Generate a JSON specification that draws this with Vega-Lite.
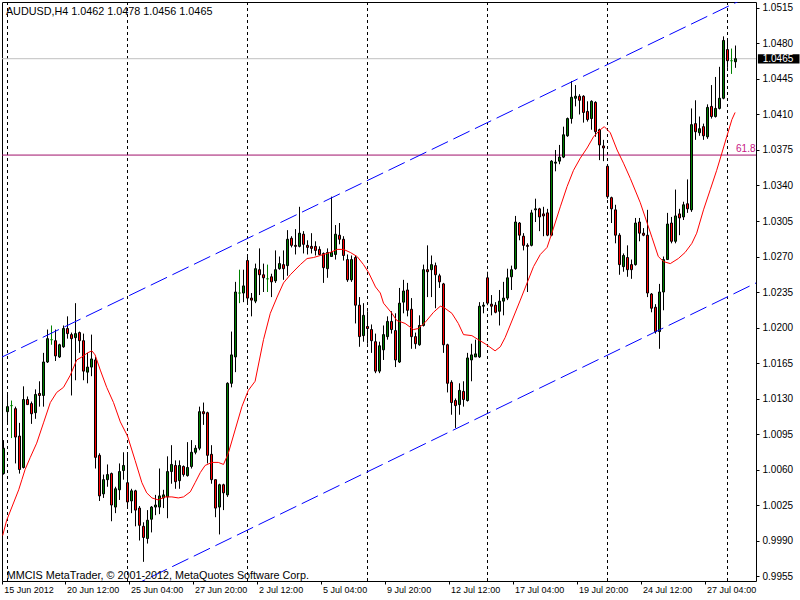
{
"$schema": "https://vega.github.io/schema/vega-lite/v6.json",
"width": 754, "height": 579,
"autosize": {"type": "none"},
"padding": {"left": 2, "top": 2, "right": 44, "bottom": 19},
"background": "white",
"config": {"view": {"stroke": "black", "strokeWidth": 1}, "font": "Liberation Sans", "axis": {"grid": false}},
"datasets": {
"candles": [
{"i":0,"o":1.0056,"h":1.0089,"l":1.0055,"c":1.0081},
{"i":1,"o":1.0117,"h":1.0136,"l":1.0104,"c":1.0122},
{"i":2,"o":1.0123,"h":1.0128,"l":1.0091,"c":1.0123},
{"i":3,"o":1.0120,"h":1.0122,"l":1.0066,"c":1.0092},
{"i":4,"o":1.0093,"h":1.0106,"l":1.0056,"c":1.0060},
{"i":5,"o":1.0062,"h":1.0142,"l":1.0061,"c":1.0129},
{"i":6,"o":1.0129,"h":1.0132,"l":1.0124,"c":1.0124},
{"i":7,"o":1.0125,"h":1.0127,"l":1.0105,"c":1.0115},
{"i":8,"o":1.0116,"h":1.0139,"l":1.0110,"c":1.0134},
{"i":9,"o":1.0135,"h":1.0147,"l":1.0122,"c":1.0133},
{"i":10,"o":1.0133,"h":1.0175,"l":1.0122,"c":1.0166},
{"i":11,"o":1.0166,"h":1.0198,"l":1.0165,"c":1.0189},
{"i":12,"o":1.0188,"h":1.0202,"l":1.0183,"c":1.0188},
{"i":13,"o":1.0187,"h":1.0198,"l":1.0167,"c":1.0172},
{"i":14,"o":1.0171,"h":1.0184,"l":1.0170,"c":1.0183},
{"i":15,"o":1.0181,"h":1.0202,"l":1.0180,"c":1.0199},
{"i":16,"o":1.0199,"h":1.0211,"l":1.0189,"c":1.0194},
{"i":17,"o":1.0193,"h":1.0195,"l":1.0133,"c":1.0189},
{"i":18,"o":1.0190,"h":1.0224,"l":1.0148,"c":1.0194},
{"i":19,"o":1.0195,"h":1.0196,"l":1.0175,"c":1.0187},
{"i":20,"o":1.0187,"h":1.0194,"l":1.0148,"c":1.0157},
{"i":21,"o":1.0156,"h":1.0175,"l":1.0145,"c":1.0161},
{"i":22,"o":1.0161,"h":1.0193,"l":1.0152,"c":1.0169},
{"i":23,"o":1.0168,"h":1.0171,"l":1.0061,"c":1.0072},
{"i":24,"o":1.0074,"h":1.0076,"l":1.0029,"c":1.0034},
{"i":25,"o":1.0036,"h":1.0055,"l":1.0032,"c":1.0050},
{"i":26,"o":1.0050,"h":1.0065,"l":1.0043,"c":1.0055},
{"i":27,"o":1.0056,"h":1.0057,"l":1.0009,"c":1.0025},
{"i":28,"o":1.0023,"h":1.0043,"l":1.0017,"c":1.0041},
{"i":29,"o":1.0040,"h":1.0066,"l":1.0030,"c":1.0058},
{"i":30,"o":1.0059,"h":1.0077,"l":1.0050,"c":1.0064},
{"i":31,"o":1.0047,"h":1.0077,"l":1.0022,"c":1.0028},
{"i":32,"o":1.0029,"h":1.0041,"l":1.0017,"c":1.0039},
{"i":33,"o":1.0039,"h":1.0040,"l":1.0004,"c":1.0020},
{"i":34,"o":1.0022,"h":1.0024,"l":0.9990,"c":1.0005},
{"i":35,"o":1.0004,"h":1.0008,"l":0.9969,"c":0.9993},
{"i":36,"o":0.9992,"h":1.0020,"l":0.9987,"c":1.0010},
{"i":37,"o":1.0011,"h":1.0024,"l":0.9998,"c":1.0023},
{"i":38,"o":1.0023,"h":1.0035,"l":1.0015,"c":1.0025},
{"i":39,"o":1.0023,"h":1.0061,"l":1.0016,"c":1.0034},
{"i":40,"o":1.0032,"h":1.0040,"l":1.0022,"c":1.0035},
{"i":41,"o":1.0033,"h":1.0073,"l":1.0012,"c":1.0058},
{"i":42,"o":1.0058,"h":1.0084,"l":1.0046,"c":1.0065},
{"i":43,"o":1.0064,"h":1.0069,"l":1.0041,"c":1.0048},
{"i":44,"o":1.0049,"h":1.0069,"l":1.0041,"c":1.0064},
{"i":45,"o":1.0063,"h":1.0064,"l":1.0053,"c":1.0055},
{"i":46,"o":1.0054,"h":1.0087,"l":1.0053,"c":1.0062},
{"i":47,"o":1.0063,"h":1.0089,"l":1.0061,"c":1.0077},
{"i":48,"o":1.0077,"h":1.0084,"l":1.0075,"c":1.0081},
{"i":49,"o":1.0081,"h":1.0122,"l":1.0079,"c":1.0117},
{"i":50,"o":1.0117,"h":1.0126,"l":1.0104,"c":1.0115},
{"i":51,"o":1.0116,"h":1.0117,"l":1.0066,"c":1.0074},
{"i":52,"o":1.0075,"h":1.0084,"l":1.0046,"c":1.0050},
{"i":53,"o":1.0050,"h":1.0050,"l":1.0013,"c":1.0022},
{"i":54,"o":1.0023,"h":1.0046,"l":0.9996,"c":1.0045},
{"i":55,"o":1.0045,"h":1.0046,"l":1.0020,"c":1.0037},
{"i":56,"o":1.0035,"h":1.0146,"l":1.0033,"c":1.0145},
{"i":57,"o":1.0145,"h":1.0196,"l":1.0141,"c":1.0173},
{"i":58,"o":1.0171,"h":1.0245,"l":1.0156,"c":1.0235},
{"i":59,"o":1.0234,"h":1.0257,"l":1.0224,"c":1.0234},
{"i":60,"o":1.0234,"h":1.0257,"l":1.0225,"c":1.0241},
{"i":61,"o":1.0266,"h":1.0272,"l":1.0225,"c":1.0229},
{"i":62,"o":1.0229,"h":1.0234,"l":1.0211,"c":1.0227},
{"i":63,"o":1.0226,"h":1.0263,"l":1.0224,"c":1.0258},
{"i":64,"o":1.0257,"h":1.0278,"l":1.0232,"c":1.0252},
{"i":65,"o":1.0252,"h":1.0263,"l":1.0235,"c":1.0249},
{"i":66,"o":1.0248,"h":1.0262,"l":1.0235,"c":1.0248},
{"i":67,"o":1.0250,"h":1.0253,"l":1.0230,"c":1.0245},
{"i":68,"o":1.0246,"h":1.0276,"l":1.0244,"c":1.0257},
{"i":69,"o":1.0258,"h":1.0270,"l":1.0257,"c":1.0263},
{"i":70,"o":1.0262,"h":1.0276,"l":1.0247,"c":1.0258},
{"i":71,"o":1.0261,"h":1.0296,"l":1.0251,"c":1.0287},
{"i":72,"o":1.0288,"h":1.0290,"l":1.0279,"c":1.0281},
{"i":73,"o":1.0281,"h":1.0297,"l":1.0272,"c":1.0280},
{"i":74,"o":1.0280,"h":1.0319,"l":1.0279,"c":1.0293},
{"i":75,"o":1.0292,"h":1.0295,"l":1.0273,"c":1.0282},
{"i":76,"o":1.0281,"h":1.0286,"l":1.0272,"c":1.0279},
{"i":77,"o":1.0280,"h":1.0293,"l":1.0273,"c":1.0278},
{"i":78,"o":1.0280,"h":1.0285,"l":1.0271,"c":1.0276},
{"i":79,"o":1.0277,"h":1.0280,"l":1.0272,"c":1.0272},
{"i":80,"o":1.0273,"h":1.0274,"l":1.0244,"c":1.0259},
{"i":81,"o":1.0258,"h":1.0278,"l":1.0249,"c":1.0274},
{"i":82,"o":1.0270,"h":1.0329,"l":1.0270,"c":1.0274},
{"i":83,"o":1.0272,"h":1.0301,"l":1.0267,"c":1.0292},
{"i":84,"o":1.0291,"h":1.0303,"l":1.0282,"c":1.0287},
{"i":85,"o":1.0287,"h":1.0290,"l":1.0266,"c":1.0271},
{"i":86,"o":1.0267,"h":1.0272,"l":1.0245,"c":1.0247},
{"i":87,"o":1.0247,"h":1.0271,"l":1.0245,"c":1.0267},
{"i":88,"o":1.0269,"h":1.0271,"l":1.0204,"c":1.0222},
{"i":89,"o":1.0222,"h":1.0230,"l":1.0181,"c":1.0191},
{"i":90,"o":1.0192,"h":1.0224,"l":1.0186,"c":1.0212},
{"i":91,"o":1.0201,"h":1.0216,"l":1.0184,"c":1.0199},
{"i":92,"o":1.0198,"h":1.0203,"l":1.0175,"c":1.0187},
{"i":93,"o":1.0186,"h":1.0194,"l":1.0155,"c":1.0157},
{"i":94,"o":1.0157,"h":1.0186,"l":1.0155,"c":1.0182},
{"i":95,"o":1.0178,"h":1.0202,"l":1.0168,"c":1.0193},
{"i":96,"o":1.0191,"h":1.0211,"l":1.0188,"c":1.0206},
{"i":97,"o":1.0206,"h":1.0216,"l":1.0194,"c":1.0198},
{"i":98,"o":1.0197,"h":1.0214,"l":1.0161,"c":1.0168},
{"i":99,"o":1.0166,"h":1.0239,"l":1.0165,"c":1.0224},
{"i":100,"o":1.0225,"h":1.0247,"l":1.0214,"c":1.0236},
{"i":101,"o":1.0237,"h":1.0244,"l":1.0211,"c":1.0217},
{"i":102,"o":1.0218,"h":1.0229,"l":1.0179,"c":1.0191},
{"i":103,"o":1.0191,"h":1.0195,"l":1.0179,"c":1.0184},
{"i":104,"o":1.0183,"h":1.0212,"l":1.0182,"c":1.0202},
{"i":105,"o":1.0202,"h":1.0262,"l":1.0201,"c":1.0257},
{"i":106,"o":1.0257,"h":1.0281,"l":1.0230,"c":1.0255},
{"i":107,"o":1.0257,"h":1.0271,"l":1.0230,"c":1.0262},
{"i":108,"o":1.0261,"h":1.0264,"l":1.0219,"c":1.0252},
{"i":109,"o":1.0251,"h":1.0253,"l":1.0239,"c":1.0245},
{"i":110,"o":1.0243,"h":1.0244,"l":1.0175,"c":1.0183},
{"i":111,"o":1.0183,"h":1.0184,"l":1.0136,"c":1.0145},
{"i":112,"o":1.0146,"h":1.0148,"l":1.0114,"c":1.0126},
{"i":113,"o":1.0128,"h":1.0130,"l":1.0101,"c":1.0123},
{"i":114,"o":1.0124,"h":1.0145,"l":1.0114,"c":1.0138},
{"i":115,"o":1.0137,"h":1.0147,"l":1.0122,"c":1.0129},
{"i":116,"o":1.0128,"h":1.0175,"l":1.0127,"c":1.0170},
{"i":117,"o":1.0168,"h":1.0184,"l":1.0147,"c":1.0173},
{"i":118,"o":1.0171,"h":1.0188,"l":1.0171,"c":1.0174},
{"i":119,"o":1.0171,"h":1.0225,"l":1.0170,"c":1.0221},
{"i":120,"o":1.0221,"h":1.0225,"l":1.0214,"c":1.0222},
{"i":121,"o":1.0249,"h":1.0255,"l":1.0222,"c":1.0224},
{"i":122,"o":1.0223,"h":1.0232,"l":1.0212,"c":1.0221},
{"i":123,"o":1.0222,"h":1.0225,"l":1.0214,"c":1.0215},
{"i":124,"o":1.0216,"h":1.0237,"l":1.0202,"c":1.0226},
{"i":125,"o":1.0226,"h":1.0245,"l":1.0212,"c":1.0229},
{"i":126,"o":1.0229,"h":1.0258,"l":1.0227,"c":1.0249},
{"i":127,"o":1.0250,"h":1.0261,"l":1.0237,"c":1.0257},
{"i":128,"o":1.0258,"h":1.0310,"l":1.0257,"c":1.0304},
{"i":129,"o":1.0303,"h":1.0304,"l":1.0286,"c":1.0291},
{"i":130,"o":1.0290,"h":1.0293,"l":1.0276,"c":1.0281},
{"i":131,"o":1.0281,"h":1.0283,"l":1.0235,"c":1.0280},
{"i":132,"o":1.0281,"h":1.0316,"l":1.0280,"c":1.0313},
{"i":133,"o":1.0316,"h":1.0327,"l":1.0304,"c":1.0317},
{"i":134,"o":1.0317,"h":1.0318,"l":1.0295,"c":1.0309},
{"i":135,"o":1.0312,"h":1.0319,"l":1.0290,"c":1.0310},
{"i":136,"o":1.0313,"h":1.0317,"l":1.0290,"c":1.0291},
{"i":137,"o":1.0291,"h":1.0365,"l":1.0290,"c":1.0364},
{"i":138,"o":1.0362,"h":1.0375,"l":1.0354,"c":1.0363},
{"i":139,"o":1.0364,"h":1.0380,"l":1.0361,"c":1.0368},
{"i":140,"o":1.0368,"h":1.0398,"l":1.0367,"c":1.0390},
{"i":141,"o":1.0389,"h":1.0407,"l":1.0388,"c":1.0406},
{"i":142,"o":1.0406,"h":1.0443,"l":1.0401,"c":1.0427},
{"i":143,"o":1.0426,"h":1.0439,"l":1.0418,"c":1.0428},
{"i":144,"o":1.0428,"h":1.0430,"l":1.0410,"c":1.0424},
{"i":145,"o":1.0428,"h":1.0429,"l":1.0402,"c":1.0412},
{"i":146,"o":1.0413,"h":1.0423,"l":1.0403,"c":1.0405},
{"i":147,"o":1.0406,"h":1.0424,"l":1.0395,"c":1.0423},
{"i":148,"o":1.0422,"h":1.0423,"l":1.0388,"c":1.0393},
{"i":149,"o":1.0395,"h":1.0396,"l":1.0365,"c":1.0380},
{"i":150,"o":1.0379,"h":1.0385,"l":1.0364,"c":1.0377},
{"i":151,"o":1.0359,"h":1.0360,"l":1.0327,"c":1.0329},
{"i":152,"o":1.0328,"h":1.0329,"l":1.0303,"c":1.0317},
{"i":153,"o":1.0316,"h":1.0321,"l":1.0283,"c":1.0291},
{"i":154,"o":1.0291,"h":1.0293,"l":1.0252,"c":1.0262},
{"i":155,"o":1.0260,"h":1.0273,"l":1.0255,"c":1.0271},
{"i":156,"o":1.0269,"h":1.0281,"l":1.0250,"c":1.0257},
{"i":157,"o":1.0262,"h":1.0267,"l":1.0248,"c":1.0257},
{"i":158,"o":1.0262,"h":1.0308,"l":1.0261,"c":1.0303},
{"i":159,"o":1.0304,"h":1.0308,"l":1.0285,"c":1.0293},
{"i":160,"o":1.0293,"h":1.0298,"l":1.0290,"c":1.0291},
{"i":161,"o":1.0291,"h":1.0316,"l":1.0230,"c":1.0234},
{"i":162,"o":1.0233,"h":1.0234,"l":1.0215,"c":1.0219},
{"i":163,"o":1.0220,"h":1.0223,"l":1.0194,"c":1.0196},
{"i":164,"o":1.0196,"h":1.0243,"l":1.0179,"c":1.0235},
{"i":165,"o":1.0235,"h":1.0270,"l":1.0217,"c":1.0267},
{"i":166,"o":1.0267,"h":1.0313,"l":1.0267,"c":1.0302},
{"i":167,"o":1.0303,"h":1.0309,"l":1.0283,"c":1.0285},
{"i":168,"o":1.0285,"h":1.0336,"l":1.0283,"c":1.0310},
{"i":169,"o":1.0312,"h":1.0317,"l":1.0291,"c":1.0308},
{"i":170,"o":1.0309,"h":1.0324,"l":1.0306,"c":1.0321},
{"i":171,"o":1.0322,"h":1.0346,"l":1.0313,"c":1.0317},
{"i":172,"o":1.0316,"h":1.0416,"l":1.0314,"c":1.0400},
{"i":173,"o":1.0401,"h":1.0424,"l":1.0385,"c":1.0393},
{"i":174,"o":1.0392,"h":1.0408,"l":1.0389,"c":1.0396},
{"i":175,"o":1.0398,"h":1.0401,"l":1.0385,"c":1.0389},
{"i":176,"o":1.0388,"h":1.0420,"l":1.0386,"c":1.0417},
{"i":177,"o":1.0418,"h":1.0439,"l":1.0406,"c":1.0408},
{"i":178,"o":1.0408,"h":1.0447,"l":1.0407,"c":1.0416},
{"i":179,"o":1.0416,"h":1.0457,"l":1.0415,"c":1.0426},
{"i":180,"o":1.0426,"h":1.0487,"l":1.0425,"c":1.0483},
{"i":181,"o":1.0474,"h":1.0485,"l":1.0456,"c":1.0463},
{"i":182,"o":1.0463,"h":1.0475,"l":1.0450,"c":1.0463},
{"i":183,"o":1.0462,"h":1.0478,"l":1.0456,"c":1.0465}
],
"ma": [
{"i":-0.2,"p":0.9995},{"i":0.8,"p":1.0010},{"i":2.5,"p":1.0027},{"i":3.8,"p":1.0040},{"i":4.6,"p":1.0050},{"i":5.4,"p":1.0060},{"i":6.7,"p":1.0072},{"i":8.3,"p":1.0086},{"i":10,"p":1.0106},{"i":11.7,"p":1.0126},{"i":13.3,"p":1.0136},{"i":15,"p":1.0141},{"i":16.7,"p":1.0153},{"i":18.3,"p":1.0168},{"i":19.6,"p":1.0171},{"i":21,"p":1.0175},{"i":22.1,"p":1.0177},{"i":22.9,"p":1.0173},{"i":24.2,"p":1.0158},{"i":25.8,"p":1.0141},{"i":27.5,"p":1.0126},{"i":29.2,"p":1.0107},{"i":31,"p":1.0093},{"i":32.9,"p":1.0069},{"i":34.6,"p":1.0047},{"i":35.8,"p":1.0037},{"i":37.1,"p":1.0032},{"i":38.7,"p":1.0030},{"i":40.4,"p":1.0033},{"i":42.1,"p":1.0033},{"i":43.7,"p":1.0032},{"i":45,"p":1.0033},{"i":46.7,"p":1.0038},{"i":47.9,"p":1.0047},{"i":49.2,"p":1.0057},{"i":50.4,"p":1.0064},{"i":52.1,"p":1.0067},{"i":53.7,"p":1.0067},{"i":55,"p":1.0065},{"i":56.2,"p":1.0076},{"i":57.9,"p":1.0099},{"i":59.6,"p":1.0122},{"i":61.2,"p":1.0138},{"i":62.9,"p":1.0147},{"i":65,"p":1.0188},{"i":66.7,"p":1.0214},{"i":68.4,"p":1.0230},{"i":70,"p":1.0244},{"i":71.7,"p":1.0252},{"i":74.2,"p":1.0262},{"i":75.9,"p":1.0268},{"i":77.5,"p":1.0269},{"i":79.2,"p":1.0271},{"i":81.7,"p":1.0274},{"i":83.4,"p":1.0277},{"i":85,"p":1.0277},{"i":86.7,"p":1.0274},{"i":88.4,"p":1.0270},{"i":90,"p":1.0262},{"i":91.3,"p":1.0254},{"i":93,"p":1.0240},{"i":94.2,"p":1.0234},{"i":95,"p":1.0224},{"i":97.1,"p":1.0214},{"i":98.3,"p":1.0207},{"i":100.4,"p":1.0204},{"i":102.5,"p":1.0198},{"i":103.7,"p":1.0199},{"i":105.4,"p":1.0205},{"i":107.5,"p":1.0215},{"i":109.2,"p":1.0221},{"i":110,"p":1.0220},{"i":112.1,"p":1.0214},{"i":113.7,"p":1.0204},{"i":115,"p":1.0193},{"i":117.1,"p":1.0192},{"i":118.7,"p":1.0188},{"i":120.4,"p":1.0184},{"i":122.9,"p":1.0177},{"i":124.2,"p":1.0181},{"i":125.4,"p":1.0190},{"i":129.2,"p":1.0227},{"i":130.9,"p":1.0244},{"i":132.5,"p":1.0260},{"i":134.2,"p":1.0272},{"i":135.9,"p":1.0279},{"i":137.5,"p":1.0298},{"i":139.2,"p":1.0319},{"i":140.9,"p":1.0339},{"i":142.5,"p":1.0355},{"i":144.2,"p":1.0367},{"i":145.9,"p":1.0377},{"i":147.5,"p":1.0388},{"i":149.2,"p":1.0395},{"i":150.2,"p":1.0398},{"i":151.7,"p":1.0392},{"i":153.4,"p":1.0375},{"i":155,"p":1.0362},{"i":156.7,"p":1.0347},{"i":159.2,"p":1.0323},{"i":160.4,"p":1.0309},{"i":162.1,"p":1.0289},{"i":163.7,"p":1.0270},{"i":165,"p":1.0265},{"i":166.7,"p":1.0263},{"i":168.7,"p":1.0268},{"i":170.4,"p":1.0274},{"i":172.1,"p":1.0283},{"i":173.3,"p":1.0293},{"i":175,"p":1.0316},{"i":176.7,"p":1.0336},{"i":178.3,"p":1.0355},{"i":179.6,"p":1.0372},{"i":180.8,"p":1.0388},{"i":182.1,"p":1.0405},{"i":182.9,"p":1.0412}
],
"channels": [
{"line":"upper","i":-1,"p":1.01697},{"line":"upper","i":190,"p":1.05335},
{"line":"lower","i":-1,"p":0.98815},{"line":"lower","i":190,"p":1.02475}
],
"seps": [{"i":1},{"i":31},{"i":61},{"i":91},{"i":121},{"i":151},{"i":181}],
"levels": [{"name":"bid","p":1.0465},{"name":"fib","p":1.0370}],
"notes": [
{"kind":"fib","t":"61.8","i":188.0,"p":1.0370},
{"kind":"title","t":"AUDUSD,H4  1.0462 1.0478 1.0456 1.0465","i":0.6,"p":1.05112},
{"kind":"credit","t":"MMCIS MetaTrader, © 2001-2012, MetaQuotes Software Corp.","i":0.8,"p":0.99555},
{"kind":"bid","t":"1.0465","i":189.8,"p":1.04648}
],
"box": [{"i0":188.6,"i1":199.0,"p0":1.04693,"p1":1.04603}]
},
"layer": [
{
"data": {"name": "seps"},
"mark": {"type": "rule", "color": "black", "strokeWidth": 1, "strokeDash": [3, 3]},
"encoding": {
"x": {"field": "i", "type": "quantitative", "scale": {"domain": [-0.375, 188.125], "nice": false, "zero": false, "padding": 0},
"axis": {"orient": "bottom", "values": [-0.3, 15.4, 31.4, 47.4, 63.4, 79.4, 95.4, 111.4, 127.4, 143.4, 159.4, 175.4], "labelExpr": "['15 Jun 2012','20 Jun 12:00','25 Jun 04:00','27 Jun 20:00','2 Jul 12:00','5 Jul 04:00','9 Jul 20:00','12 Jul 12:00','17 Jul 04:00','19 Jul 20:00','24 Jul 12:00','27 Jul 04:00'][round((datum.value+0.6)/16)]", "title": null, "domain": false, "grid": false, "tickSize": 3, "tickColor": "black", "labelColor": "black", "labelFont": "Liberation Sans", "labelFontSize": 9, "labelAlign": "left", "labelBaseline": "top", "labelPadding": 1, "labelOffset": 1.5, "labelOverlap": false, "labelFlush": false, "labelBound": false}}
}
},
{
"data": {"name": "levels"},
"mark": {"type": "rule", "strokeWidth": 1},
"encoding": {
"y": {"field": "p", "type": "quantitative", "scale": {"domain": [0.99501, 1.05209], "nice": false, "zero": false, "padding": 0},
"axis": {"orient": "right", "values": [0.9955, 0.999, 1.0025, 1.006, 1.0095, 1.013, 1.0165, 1.02, 1.0235, 1.027, 1.0305, 1.034, 1.0375, 1.041, 1.0445, 1.048, 1.0515], "format": ".4f", "title": null, "domain": false, "grid": false, "tickSize": 3, "tickColor": "black", "labelColor": "black", "labelFont": "Liberation Sans", "labelFontSize": 10, "labelAlign": "left", "labelBaseline": "middle", "labelPadding": 3, "labelOverlap": false, "labelFlush": false, "labelBound": false}},
"color": {"field": "name", "type": "nominal", "scale": {"domain": ["bid", "fib"], "range": ["#c0c0c0", "#a0106a"]}, "legend": null}
}
},
{
"data": {"name": "candles"},
"encoding": {
"x": {"field": "i", "type": "quantitative", "scale": {"domain": [-0.375, 188.125], "nice": false, "zero": false, "padding": 0},
"axis": {"orient": "bottom", "values": [-0.3, 15.4, 31.4, 47.4, 63.4, 79.4, 95.4, 111.4, 127.4, 143.4, 159.4, 175.4], "labelExpr": "['15 Jun 2012','20 Jun 12:00','25 Jun 04:00','27 Jun 20:00','2 Jul 12:00','5 Jul 04:00','9 Jul 20:00','12 Jul 12:00','17 Jul 04:00','19 Jul 20:00','24 Jul 12:00','27 Jul 04:00'][round((datum.value+0.6)/16)]", "title": null, "domain": false, "grid": false, "tickSize": 3, "tickColor": "black", "labelColor": "black", "labelFont": "Liberation Sans", "labelFontSize": 9, "labelAlign": "left", "labelBaseline": "top", "labelPadding": 1, "labelOffset": 1.5, "labelOverlap": false, "labelFlush": false, "labelBound": false}}
},
"layer": [
{
"mark": {"type": "rule", "strokeWidth": 1},
"encoding": {
"y": {"field": "l", "type": "quantitative", "scale": {"domain": [0.99501, 1.05209], "nice": false, "zero": false, "padding": 0},
"axis": {"orient": "right", "values": [0.9955, 0.999, 1.0025, 1.006, 1.0095, 1.013, 1.0165, 1.02, 1.0235, 1.027, 1.0305, 1.034, 1.0375, 1.041, 1.0445, 1.048, 1.0515], "format": ".4f", "title": null, "domain": false, "grid": false, "tickSize": 3, "tickColor": "black", "labelColor": "black", "labelFont": "Liberation Sans", "labelFontSize": 10, "labelAlign": "left", "labelBaseline": "middle", "labelPadding": 3, "labelOverlap": false, "labelFlush": false, "labelBound": false}},
"y2": {"field": "h"},
"color": {"condition": {"test": "datum.o == datum.c", "value": "#008000"}, "value": "black"}
}
},
{
"mark": {"type": "bar", "width": 2, "strokeWidth": 1},
"encoding": {
"y": {"field": "o", "type": "quantitative", "scale": {"domain": [0.99501, 1.05209], "nice": false, "zero": false, "padding": 0},
"axis": {"orient": "right", "values": [0.9955, 0.999, 1.0025, 1.006, 1.0095, 1.013, 1.0165, 1.02, 1.0235, 1.027, 1.0305, 1.034, 1.0375, 1.041, 1.0445, 1.048, 1.0515], "format": ".4f", "title": null, "domain": false, "grid": false, "tickSize": 3, "tickColor": "black", "labelColor": "black", "labelFont": "Liberation Sans", "labelFontSize": 10, "labelAlign": "left", "labelBaseline": "middle", "labelPadding": 3, "labelOverlap": false, "labelFlush": false, "labelBound": false}},
"y2": {"field": "c"},
"fill": {"condition": {"test": "datum.c >= datum.o", "value": "#008000"}, "value": "#ff0000"},
"stroke": {"condition": {"test": "datum.o == datum.c", "value": "#008000"}, "value": "black"}
}
}
]
},
{
"data": {"name": "ma"},
"mark": {"type": "line", "color": "#ff0000", "strokeWidth": 1, "clip": true},
"encoding": {
"x": {"field": "i", "type": "quantitative", "scale": {"domain": [-0.375, 188.125], "nice": false, "zero": false, "padding": 0},
"axis": {"orient": "bottom", "values": [-0.3, 15.4, 31.4, 47.4, 63.4, 79.4, 95.4, 111.4, 127.4, 143.4, 159.4, 175.4], "labelExpr": "['15 Jun 2012','20 Jun 12:00','25 Jun 04:00','27 Jun 20:00','2 Jul 12:00','5 Jul 04:00','9 Jul 20:00','12 Jul 12:00','17 Jul 04:00','19 Jul 20:00','24 Jul 12:00','27 Jul 04:00'][round((datum.value+0.6)/16)]", "title": null, "domain": false, "grid": false, "tickSize": 3, "tickColor": "black", "labelColor": "black", "labelFont": "Liberation Sans", "labelFontSize": 9, "labelAlign": "left", "labelBaseline": "top", "labelPadding": 1, "labelOffset": 1.5, "labelOverlap": false, "labelFlush": false, "labelBound": false}},
"y": {"field": "p", "type": "quantitative", "scale": {"domain": [0.99501, 1.05209], "nice": false, "zero": false, "padding": 0},
"axis": {"orient": "right", "values": [0.9955, 0.999, 1.0025, 1.006, 1.0095, 1.013, 1.0165, 1.02, 1.0235, 1.027, 1.0305, 1.034, 1.0375, 1.041, 1.0445, 1.048, 1.0515], "format": ".4f", "title": null, "domain": false, "grid": false, "tickSize": 3, "tickColor": "black", "labelColor": "black", "labelFont": "Liberation Sans", "labelFontSize": 10, "labelAlign": "left", "labelBaseline": "middle", "labelPadding": 3, "labelOverlap": false, "labelFlush": false, "labelBound": false}}
}
},
{
"data": {"name": "channels"},
"mark": {"type": "line", "color": "#0000ff", "strokeWidth": 1, "strokeDash": [18, 6], "clip": true},
"encoding": {
"x": {"field": "i", "type": "quantitative", "scale": {"domain": [-0.375, 188.125], "nice": false, "zero": false, "padding": 0},
"axis": {"orient": "bottom", "values": [-0.3, 15.4, 31.4, 47.4, 63.4, 79.4, 95.4, 111.4, 127.4, 143.4, 159.4, 175.4], "labelExpr": "['15 Jun 2012','20 Jun 12:00','25 Jun 04:00','27 Jun 20:00','2 Jul 12:00','5 Jul 04:00','9 Jul 20:00','12 Jul 12:00','17 Jul 04:00','19 Jul 20:00','24 Jul 12:00','27 Jul 04:00'][round((datum.value+0.6)/16)]", "title": null, "domain": false, "grid": false, "tickSize": 3, "tickColor": "black", "labelColor": "black", "labelFont": "Liberation Sans", "labelFontSize": 9, "labelAlign": "left", "labelBaseline": "top", "labelPadding": 1, "labelOffset": 1.5, "labelOverlap": false, "labelFlush": false, "labelBound": false}},
"y": {"field": "p", "type": "quantitative", "scale": {"domain": [0.99501, 1.05209], "nice": false, "zero": false, "padding": 0},
"axis": {"orient": "right", "values": [0.9955, 0.999, 1.0025, 1.006, 1.0095, 1.013, 1.0165, 1.02, 1.0235, 1.027, 1.0305, 1.034, 1.0375, 1.041, 1.0445, 1.048, 1.0515], "format": ".4f", "title": null, "domain": false, "grid": false, "tickSize": 3, "tickColor": "black", "labelColor": "black", "labelFont": "Liberation Sans", "labelFontSize": 10, "labelAlign": "left", "labelBaseline": "middle", "labelPadding": 3, "labelOverlap": false, "labelFlush": false, "labelBound": false}},
"detail": {"field": "line", "type": "nominal"}
}
},
{
"data": {"name": "box"},
"mark": {"type": "rect", "color": "black", "clip": false},
"encoding": {
"x": {"field": "i0", "type": "quantitative", "scale": {"domain": [-0.375, 188.125], "nice": false, "zero": false, "padding": 0},
"axis": {"orient": "bottom", "values": [-0.3, 15.4, 31.4, 47.4, 63.4, 79.4, 95.4, 111.4, 127.4, 143.4, 159.4, 175.4], "labelExpr": "['15 Jun 2012','20 Jun 12:00','25 Jun 04:00','27 Jun 20:00','2 Jul 12:00','5 Jul 04:00','9 Jul 20:00','12 Jul 12:00','17 Jul 04:00','19 Jul 20:00','24 Jul 12:00','27 Jul 04:00'][round((datum.value+0.6)/16)]", "title": null, "domain": false, "grid": false, "tickSize": 3, "tickColor": "black", "labelColor": "black", "labelFont": "Liberation Sans", "labelFontSize": 9, "labelAlign": "left", "labelBaseline": "top", "labelPadding": 1, "labelOffset": 1.5, "labelOverlap": false, "labelFlush": false, "labelBound": false}},
"x2": {"field": "i1"},
"y": {"field": "p0", "type": "quantitative", "scale": {"domain": [0.99501, 1.05209], "nice": false, "zero": false, "padding": 0},
"axis": {"orient": "right", "values": [0.9955, 0.999, 1.0025, 1.006, 1.0095, 1.013, 1.0165, 1.02, 1.0235, 1.027, 1.0305, 1.034, 1.0375, 1.041, 1.0445, 1.048, 1.0515], "format": ".4f", "title": null, "domain": false, "grid": false, "tickSize": 3, "tickColor": "black", "labelColor": "black", "labelFont": "Liberation Sans", "labelFontSize": 10, "labelAlign": "left", "labelBaseline": "middle", "labelPadding": 3, "labelOverlap": false, "labelFlush": false, "labelBound": false}},
"y2": {"field": "p1"}
}
},
{
"data": {"name": "notes"},
"encoding": {
"x": {"field": "i", "type": "quantitative", "scale": {"domain": [-0.375, 188.125], "nice": false, "zero": false, "padding": 0},
"axis": {"orient": "bottom", "values": [-0.3, 15.4, 31.4, 47.4, 63.4, 79.4, 95.4, 111.4, 127.4, 143.4, 159.4, 175.4], "labelExpr": "['15 Jun 2012','20 Jun 12:00','25 Jun 04:00','27 Jun 20:00','2 Jul 12:00','5 Jul 04:00','9 Jul 20:00','12 Jul 12:00','17 Jul 04:00','19 Jul 20:00','24 Jul 12:00','27 Jul 04:00'][round((datum.value+0.6)/16)]", "title": null, "domain": false, "grid": false, "tickSize": 3, "tickColor": "black", "labelColor": "black", "labelFont": "Liberation Sans", "labelFontSize": 9, "labelAlign": "left", "labelBaseline": "top", "labelPadding": 1, "labelOffset": 1.5, "labelOverlap": false, "labelFlush": false, "labelBound": false}},
"y": {"field": "p", "type": "quantitative", "scale": {"domain": [0.99501, 1.05209], "nice": false, "zero": false, "padding": 0},
"axis": {"orient": "right", "values": [0.9955, 0.999, 1.0025, 1.006, 1.0095, 1.013, 1.0165, 1.02, 1.0235, 1.027, 1.0305, 1.034, 1.0375, 1.041, 1.0445, 1.048, 1.0515], "format": ".4f", "title": null, "domain": false, "grid": false, "tickSize": 3, "tickColor": "black", "labelColor": "black", "labelFont": "Liberation Sans", "labelFontSize": 10, "labelAlign": "left", "labelBaseline": "middle", "labelPadding": 3, "labelOverlap": false, "labelFlush": false, "labelBound": false}},
"text": {"field": "t"}
},
"layer": [
{"transform": [{"filter": "datum.kind == 'fib'"}],
"mark": {"type": "text", "align": "right", "baseline": "bottom", "dy": -1, "font": "Liberation Sans", "fontSize": 10, "color": "#c71585"}},
{"transform": [{"filter": "datum.kind == 'title' || datum.kind == 'credit'"}],
"mark": {"type": "text", "align": "left", "baseline": "middle", "font": "Liberation Sans", "fontSize": 10.8, "color": "black"}},
{"transform": [{"filter": "datum.kind == 'bid'"}],
"mark": {"type": "text", "align": "left", "baseline": "middle", "font": "Liberation Sans", "fontSize": 10, "color": "white"}}
]
}
]
}
